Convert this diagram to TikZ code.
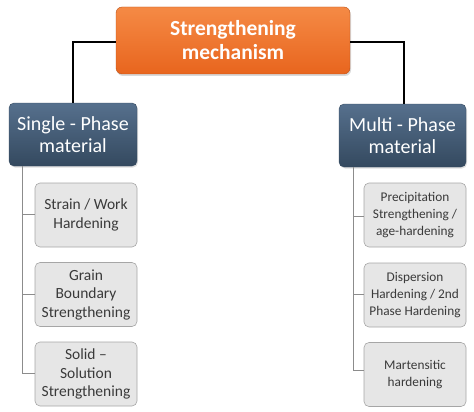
\documentclass[tikz,border=0pt]{standalone}
\usepackage{fontspec}
\setmainfont{Carlito}
\usetikzlibrary{shadows}
\definecolor{orangetop}{HTML}{F58A45}
\definecolor{orangebot}{HTML}{E8651E}
\definecolor{slatetop}{HTML}{56708D}
\definecolor{slatebot}{HTML}{34495F}
\definecolor{childfill}{HTML}{E6E6E6}
\definecolor{childdraw}{HTML}{A6A6A6}
\definecolor{childtext}{HTML}{3A3A3A}
\definecolor{linegray}{HTML}{8C8C8C}
\tikzset{
  rootbox/.style={draw=orangebot!80!black, line width=0.4pt, rounded corners=6pt,
    top color=orangetop, bottom color=orangebot, text=white,
    font=\fontsize{21.5}{24}\selectfont\bfseries, align=center,
    drop shadow={shadow xshift=1pt, shadow yshift=-2pt, opacity=0.3}},
  phasebox/.style={draw=slatebot, line width=0.4pt, rounded corners=5pt,
    top color=slatetop, bottom color=slatebot, text=white,
    font=\fontsize{20}{22.5}\selectfont, align=center,
    drop shadow={shadow xshift=1pt, shadow yshift=-1.5pt, opacity=0.25}},
  childbox/.style={draw=childdraw, line width=0.6pt, rounded corners=5pt,
    fill=childfill, text=childtext, minimum width=102pt, minimum height=64pt,
    font=\fontsize{15.5}{18.5}\selectfont, align=center},
  rchildbox/.style={childbox, font=\fontsize{13.3}{16.8}\selectfont},
  topline/.style={draw=black, line width=1.1pt},
  subline/.style={draw=linegray, line width=1pt},
}
\begin{document}
\begin{tikzpicture}[x=1pt,y=-1pt]
\useasboundingbox (0,0) rectangle (474,412);
% root
\node[rootbox, minimum width=234pt, minimum height=67pt] (root) at (233,40.5) {Strengthening\\mechanism};
% phases
\node[phasebox, minimum width=128pt, minimum height=63pt] (single) at (73,134.5) {Single - Phase\\material};
\node[phasebox, minimum width=127pt, minimum height=63pt] (multi) at (402.5,135.5) {Multi - Phase\\material};
% children left
\node[childbox] (s1) at (86,215) {Strain / Work\\Hardening};
\node[childbox] (s2) at (86,294.5) {Grain\\Boundary\\Strengthening};
\node[childbox] (s3) at (86,374) {Solid –\\Solution\\Strengthening};
% children right
\node[rchildbox] (m1) at (415,215) {Precipitation\\Strengthening /\\age-hardening};
\node[rchildbox] (m2) at (415,295) {Dispersion\\Hardening / 2nd\\Phase Hardening};
\node[rchildbox] (m3) at (415,374.5) {Martensitic\\hardening};
% connectors from root
\draw[topline] (root.west |- 0,42) -- (73,42) -- (single.north);
\draw[topline] (root.east |- 0,42) -- (404,42) -- (404,0 |- multi.north);
% left tree
\draw[subline] (single.south -| 22,0) -- (22,214) -- (s1.west |- 0,214);
\draw[subline] (22,214) -- (22,294) -- (s2.west |- 0,294);
\draw[subline] (22,294) -- (22,373) -- (s3.west |- 0,373);
% right tree
\draw[subline] (multi.south -| 353,0) -- (353,216) -- (m1.west |- 0,216);
\draw[subline] (353,216) -- (353,294) -- (m2.west |- 0,294);
\draw[subline] (353,294) -- (353,370) -- (m3.west |- 0,370);
\end{tikzpicture}
\end{document}
